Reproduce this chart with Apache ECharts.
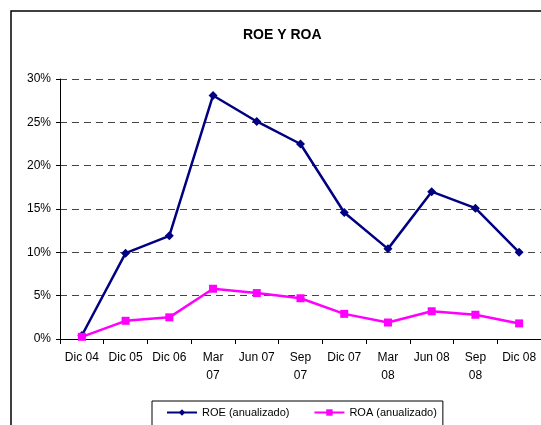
<!DOCTYPE html>
<html lang="es">
<head>
    <meta charset="UTF-8">
    <title>ROE Y ROA</title>
    <style>
        body { margin: 0; background: #fff; }
    </style>
</head>
<body>
    <div id="main" style="width: 541px;height: 425px;"></div>
    <script src="https://cdn.jsdelivr.net/npm/echarts@6/dist/echarts.min.js"></script>
    <script>
        var periodos = ['Dic 04', 'Dic 05', 'Dic 06', 'Mar\n07', 'Jun 07', 'Sep\n07', 'Dic 07', 'Mar\n08', 'Jun 08', 'Sep\n08', 'Dic 08'];
        var roe = [0.4, 9.9, 11.9, 28.1, 25.1, 22.5, 14.6, 10.4, 17.0, 15.1, 10.0];
        var roa = [0.25, 2.1, 2.5, 5.8, 5.3, 4.7, 2.9, 1.9, 3.2, 2.8, 1.8];
        var ticksY = [0, 5, 10, 15, 20, 25, 30];

        var fuente = '"Liberation Sans", Arial, sans-serif';
        var chart = echarts.init(document.getElementById('main'));

        chart.setOption({
            animation: false,
            textStyle: { fontFamily: fuente },
            title: {
                text: 'ROE Y ROA',
                left: 238,
                top: 23,
                textStyle: { fontSize: 14, fontWeight: 'bold', color: '#000', fontFamily: fuente }
            },
            // marco exterior del grafico
            graphic: [{
                type: 'rect',
                shape: { x: 11, y: 11, width: 560, height: 440 },
                style: { fill: 'none', stroke: '#000', lineWidth: 1.5 },
                silent: true
            }],
            legend: {
                left: 152,
                top: 401,
                padding: [6, 6, 8, 14],
                borderColor: '#000',
                borderWidth: 1,
                itemWidth: 30,
                itemHeight: 8,
                itemGap: 24,
                textStyle: { fontSize: 11, color: '#000', fontFamily: fuente },
                data: ['ROE (anualizado)', 'ROA (anualizado)']
            },
            grid: {
                left: 60,
                right: 0,
                top: 79,
                bottom: 86
            },
            xAxis: {
                type: 'category',
                data: periodos,
                boundaryGap: true,
                axisLine: { lineStyle: { color: '#000', width: 1 } },
                axisTick: { show: true, length: 5, lineStyle: { color: '#000' } },
                axisLabel: {
                    interval: 0,
                    margin: 10,
                    fontSize: 12,
                    lineHeight: 18,
                    color: '#000',
                    fontFamily: fuente
                }
            },
            yAxis: {
                type: 'value',
                min: ticksY[0],
                max: ticksY[ticksY.length - 1],
                interval: 5,
                axisLine: { show: true, lineStyle: { color: '#000', width: 1 } },
                axisTick: { show: true, length: 4, lineStyle: { color: '#000' } },
                axisLabel: {
                    formatter: '{value}%',
                    margin: 9,
                    fontSize: 12,
                    color: '#000',
                    fontFamily: fuente
                },
                splitLine: {
                    show: true,
                    lineStyle: { color: '#444', width: 1, type: [7, 5] }
                }
            },
            series: [
                {
                    name: 'ROE (anualizado)',
                    type: 'line',
                    data: roe,
                    color: '#000080',
                    symbol: 'diamond',
                    symbolSize: 9,
                    lineStyle: { width: 2.5, color: '#000080' },
                    itemStyle: { color: '#000080' }
                },
                {
                    name: 'ROA (anualizado)',
                    type: 'line',
                    data: roa,
                    color: '#FF00FF',
                    symbol: 'rect',
                    symbolSize: 8,
                    lineStyle: { width: 2.5, color: '#FF00FF' },
                    itemStyle: { color: '#FF00FF' }
                }
            ]
        });
    </script>
</body>
</html>
